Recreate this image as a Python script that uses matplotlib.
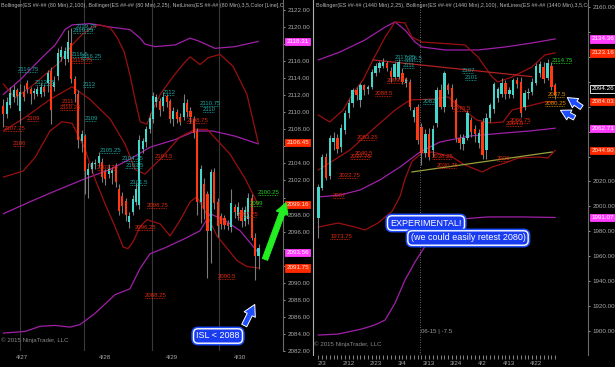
import matplotlib
matplotlib.use("Agg")
import matplotlib.pyplot as plt
from matplotlib.transforms import blended_transform_factory
from matplotlib.patches import FancyArrowPatch

plt.rcParams['font.family'] = ['Liberation Sans', 'DejaVu Sans']

# ---------------- left chart: ES 80 min bars ----------------
l_open = [2110.7, 2109.8, 2110.9, 2111.8, 2112.6, 2110.2, 2112.4, 2113.4, 2112.7, 2112.3,
          2112.2, 2112.2, 2113.0, 2113.4, 2114.8, 2113.0, 2114.2, 2116.5, 2116.3, 2116.3,
          2118.1, 2113.9, 2112.2, 2106.6, 2107.2, 2102.6, 2103.4, 2103.9, 2104.1, 2104.2,
          2103.0, 2102.8, 2102.9, 2103.6, 2101.0, 2100.2, 2099.6, 2097.1, 2098.3, 2099.5,
          2099.1, 2105.7, 2106.5, 2108.0, 2109.2, 2111.2, 2111.3, 2110.7, 2111.9, 2111.3,
          2109.2, 2110.0, 2109.4, 2109.5, 2111.1, 2110.1, 2109.2, 2107.8, 2099.5, 2101.6,
          2100.4, 2096.1, 2103.0, 2099.5, 2097.8, 2097.6, 2097.0, 2096.5, 2098.9, 2097.8,
          2098.5, 2097.2, 2097.5, 2100.0, 2095.3, 2093.1]
l_high = [2111.5, 2111.8, 2113.0, 2113.2, 2112.9, 2113.3, 2113.2, 2113.8, 2113.0, 2112.9,
          2113.1, 2113.4, 2113.3, 2115.0, 2115.3, 2114.3, 2117.5, 2117.8, 2117.6, 2119.7,
          2119.9, 2114.3, 2112.6, 2107.9, 2107.5, 2104.0, 2104.3, 2104.5, 2105.3, 2104.6,
          2103.4, 2103.9, 2103.6, 2104.0, 2101.6, 2100.7, 2100.0, 2098.3, 2100.3, 2101.7,
          2107.3, 2107.0, 2108.4, 2109.9, 2112.4, 2112.2, 2111.7, 2112.4, 2112.2, 2111.6,
          2110.6, 2110.4, 2109.9, 2112.1, 2111.6, 2110.6, 2109.6, 2108.2, 2103.8, 2102.3,
          2100.8, 2103.4, 2103.5, 2100.0, 2098.2, 2098.0, 2097.4, 2101.0, 2099.3, 2099.5,
          2098.9, 2099.0, 2100.5, 2100.4, 2095.8, 2094.6]
l_low = [2108.3, 2109.3, 2110.5, 2111.2, 2110.9, 2108.6, 2111.3, 2112.3, 2111.0, 2111.6,
         2111.9, 2111.8, 2111.9, 2112.4, 2108.6, 2112.5, 2113.8, 2116.0, 2115.6, 2115.9,
         2113.4, 2111.2, 2105.8, 2105.4, 2100.4, 2100.0, 2102.9, 2103.4, 2103.6, 2101.8,
         2101.5, 2102.3, 2101.6, 2101.2, 2098.0, 2098.2, 2097.2, 2096.4, 2097.9, 2099.1,
         2098.6, 2105.2, 2105.9, 2107.6, 2108.8, 2110.6, 2109.6, 2110.2, 2110.6, 2108.7,
         2108.4, 2108.7, 2108.5, 2109.1, 2109.4, 2108.8, 2107.0, 2098.0, 2097.0, 2097.5,
         2090.6, 2092.3, 2098.7, 2095.4, 2096.3, 2096.3, 2096.2, 2095.9, 2097.6, 2097.4,
         2096.6, 2096.7, 2096.9, 2095.0, 2090.3, 2091.6]
l_close = [2109.8, 2111.2, 2112.3, 2112.6, 2111.9, 2112.4, 2111.8, 2112.7, 2112.2, 2112.5,
           2112.7, 2113.0, 2112.4, 2114.6, 2110.3, 2113.5, 2117.0, 2117.3, 2117.2, 2118.3,
           2113.9, 2112.2, 2106.8, 2107.4, 2103.1, 2103.4, 2104.0, 2104.1, 2104.9, 2102.4,
           2102.2, 2103.3, 2103.2, 2101.8, 2098.4, 2099.0, 2097.9, 2097.8, 2099.8, 2101.0,
           2106.8, 2106.6, 2108.0, 2109.3, 2111.9, 2111.8, 2110.3, 2111.8, 2111.2, 2109.2,
           2110.2, 2109.2, 2108.9, 2111.1, 2110.0, 2109.4, 2107.6, 2099.5, 2103.3, 2098.7,
           2096.1, 2103.0, 2099.4, 2096.7, 2096.9, 2096.8, 2096.7, 2099.4, 2098.3, 2098.9,
           2097.2, 2098.5, 2100.0, 2095.3, 2093.1, 2094.1]

l_dates = ["4/27", "4/28", "4/29", "4/30"]
l_date_pos = [5.5, 29.9, 49.6, 69.6]
l_sessions = [4.9, 23.7, 43.7, 63.4]

# Bollinger(100) - purple
l_bb100_up_x = [0, 4.9, 10.8, 15.2, 18.1, 20.2, 25.5, 31.4, 37.2, 40.2, 41.6, 44.6, 50.5, 54.9, 57.8, 62.2, 68.1, 74.9]
l_bb100_up = [2112.1, 2113.8, 2116.2, 2117.9, 2119.7, 2120.25, 2120.4, 2120.0, 2119.7, 2118.7, 2118.0, 2117.7,
              2117.9, 2118.7, 2118.3, 2117.5, 2117.7, 2118.31]
l_bb100_mid_x = [0, 7.8, 16.6, 24.0, 31.4, 37.2, 43.1, 50.5, 56.4, 61.6, 68.1, 74.9]
l_bb100_mid = [2098.1, 2099.5, 2101.0, 2102.2, 2103.3, 2104.5, 2105.9, 2106.8, 2107.8, 2107.8, 2107.2, 2106.3]
l_bb100_lo_x = [0, 6.4, 10.8, 15.2, 19.6, 22.5, 26.9, 32.8, 37.2, 40.2, 43.1, 47.5, 53.4, 57.8, 60.8, 65.2, 69.6, 74.9]
l_bb100_lo = [2084.1, 2084.3, 2084.9, 2085.0, 2084.8, 2085.1, 2086.4, 2088.6, 2089.3, 2091.7, 2093.4, 2094.1,
              2095.2, 2096.1, 2098.1, 2097.3, 2096.1, 2093.56]
# Bollinger(25) - dark red
l_bb25_up_x = [0, 3.4, 7.8, 12.2, 16.6, 20.2, 23.1, 26.1, 28.4, 31.4, 33.4, 35.5, 37.2, 38.7, 40.2, 42.2, 43.7,
               46.1, 49.9, 53.4, 54.9, 57.8, 60.2, 63.7, 67.5, 71.6, 74.9]
l_bb25_up = [2113.3, 2111.7, 2112.9, 2114.4, 2115.9, 2117.9, 2119.1, 2120.0, 2120.25, 2119.9, 2118.8, 2117.1,
             2114.4, 2111.5, 2108.9, 2108.6, 2110.1, 2112.1, 2114.2, 2115.9, 2116.5, 2115.6, 2116.4, 2116.8,
             2115.4, 2112.1, 2106.45]
l_bb25_mid_x = [0, 6.4, 13.7, 20.2, 25.5, 31.4, 35.8, 38.7, 41.6, 46.1, 51.9, 56.4, 59.9, 66.6, 71.1, 74.9]
l_bb25_mid = [2107.8, 2109.4, 2111.5, 2113.0, 2111.5, 2109.2, 2106.25, 2103.3, 2102.75, 2104.5, 2107.1,
              2108.0, 2108.0, 2105.1, 2102.2, 2099.16]
l_bb25_lo_x = [0, 5.8, 9.3, 13.7, 17.2, 20.2, 24.0, 26.9, 29.9, 32.8, 35.2, 36.6, 38.1, 40.2, 42.2, 46.1, 49.0,
               51.9, 54.9, 56.9, 59.3, 62.8, 68.7, 71.6, 74.9]
l_bb25_lo = [2102.4, 2103.1, 2104.7, 2107.8, 2108.9, 2108.7, 2105.7, 2102.2, 2099.25, 2096.6, 2094.2, 2094.0,
             2094.8, 2096.6, 2097.4, 2096.9, 2095.5, 2097.3, 2099.5, 2100.1, 2098.4, 2095.5, 2092.6, 2091.9,
             2091.75]

# NetLines levels: (text, bar, price, colour key)
l_levels = [("2119.75", 21.1, 2119.75, "c"), ("2119.25", 20.5, 2119.25, "c"), ("2114.75", 4.3, 2114.75, "c"),
            ("2116.5", 19.9, 2116.5, "c"), ("2116.25", 22.8, 2116.25, "c"), ("2115.75", 20.2, 2115.75, "r"),
            ("2113", 23.4, 2113.0, "c"), ("2113.25", 9.3, 2113.25, "c"), ("2111", 17.2, 2111.0, "r"),
            ("2110.25", 16.6, 2110.25, "r"), ("2109", 24.0, 2109.0, "c"), ("2109", 6.9, 2109.0, "r"),
            ("2107.75", 0.2, 2107.75, "r"), ("2106", 2.8, 2106.0, "r"), ("2112", 46.9, 2112.0, "c"),
            ("2110.75", 57.8, 2110.75, "c"), ("2110", 58.7, 2110.0, "c"), ("2108.75", 54.0, 2108.75, "r"),
            ("2105.25", 28.4, 2105.25, "c"), ("2104.25", 34.9, 2104.25, "c"), ("2103.5", 35.8, 2103.5, "c"),
            ("2103.25", 27.5, 2103.25, "r"), ("2101.5", 37.2, 2101.5, "c"), ("2104.5", 44.6, 2104.5, "r"),
            ("2098.75", 42.2, 2098.75, "r"), ("2096.25", 38.7, 2096.25, "r"), ("2097.75", 68.7, 2097.75, "r"),
            ("2090.5", 63.1, 2090.5, "r"), ("2088.25", 41.6, 2088.25, "r"), ("2100.25", 74.9, 2100.25, "g"),
            ("2099", 72.5, 2099.0, "g")]
l_tags = [(2118.31, "m"), (2106.45, "r"), (2099.16, "r"), (2093.56, "m"), (2091.75, "r")]

# ---------------- right chart: ES daily bars ----------------
r_open = [1990.7, 2015, 2040, 2024, 2052, 2055, 2048, 2061, 2075, 2083, 2093, 2085, 2097, 2094, 2096, 2107,
          2111, 2113, 2115, 2109, 2104, 2104, 2107, 2099, 2100, 2072, 2080, 2064, 2043, 2058, 2045, 2067,
          2093, 2080, 2097, 2095, 2085, 2055, 2050, 2055, 2069, 2062, 2051, 2068, 2045, 2071, 2078, 2087,
          2090, 2099, 2090, 2089, 2101, 2100, 2080, 2091, 2092, 2099, 2107, 2112, 2103, 2113, 2097]
r_high = [2018, 2042, 2043, 2057, 2060, 2058, 2066, 2077, 2086, 2095, 2096, 2099, 2098, 2097, 2110, 2115,
          2117, 2119, 2117, 2112, 2116, 2118, 2111, 2104, 2102, 2080, 2082, 2067, 2062, 2063, 2065, 2096,
          2098, 2109, 2099, 2098, 2087, 2058, 2058, 2077, 2072, 2065, 2062, 2071, 2075, 2083, 2100, 2096,
          2103, 2101, 2096, 2103, 2104, 2104, 2093, 2095, 2103, 2115, 2117, 2116, 2118, 2116, 2099]
r_low = [1974.6, 2013, 2021, 2022, 2045, 2043, 2044, 2058, 2071, 2080, 2085, 2080, 2089, 2090, 2094, 2105,
         2108, 2111, 2109, 2100, 2102, 2102, 2098, 2096, 2077, 2068, 2050, 2033, 2040, 2037, 2040, 2064,
         2078, 2076, 2090, 2078, 2052, 2046, 2045, 2053, 2056, 2052, 2047, 2038, 2038, 2068, 2075, 2084,
         2088, 2086, 2087, 2087, 2095, 2072, 2077, 2086, 2089, 2097, 2104, 2099, 2101, 2093, 2086]
r_close = [2015.5, 2040, 2023, 2055, 2055, 2046, 2063, 2075, 2083, 2093, 2089, 2097, 2093, 2096, 2108, 2113,
           2115, 2116, 2111, 2104, 2114, 2116, 2100, 2102, 2080, 2077, 2053, 2043, 2058, 2040, 2062, 2093,
           2080, 2107, 2093, 2080, 2055, 2051, 2055, 2075, 2060, 2058, 2059, 2041, 2071, 2081, 2098, 2094,
           2099, 2090, 2093, 2101, 2098, 2075, 2091, 2092, 2100, 2113, 2114, 2102, 2115, 2096, 2089]

r_dates = ["2/3", "2/12", "2/23", "3/4", "3/13", "3/24", "4/2", "4/13", "4/22"]
r_date_pos = [1, 8, 15, 22, 29, 36, 43, 50, 57]
r_cursor = 26.6

r_bb100_up_x = [0, 5.7, 12.2, 17.5, 20.1, 22.7, 25.3, 27.1, 33.2, 41.8, 48.9, 55.9, 62.0]
r_bb100_up = [2117.5, 2123.9, 2133.5, 2143.9, 2148.0, 2141.5, 2131.9, 2127.9, 2125.5, 2125.5, 2127.9, 2131.1, 2134.36]
r_bb100_mid_x = [0, 5.7, 10.9, 16.1, 21.4, 26.6, 31.8, 39.7, 48.9, 55.4, 62.0]
r_bb100_mid = [2007.5, 2009.1, 2013.1, 2021.2, 2031.6, 2043.6, 2051.6, 2056.5, 2058.9, 2060.5, 2062.71]
r_bb100_lo_x = [0, 5.2, 11.4, 14.8, 17.5, 20.1, 22.7, 25.3, 28.5, 31.9, 37.6, 44.4, 53.3, 62.0]
r_bb100_lo = [1896.7, 1897.5, 1901.6, 1904.8, 1908.8, 1922.4, 1940.9, 1955.3, 1970.6, 1982.6, 1989.9, 1991.5,
              1991.5, 1991.07]
r_bb25_up_x = [0, 3.0, 6.5, 9.1, 11.7, 14.3, 17.5, 20.1, 22.7, 24.5, 27.1, 38.4, 41.8, 45.5, 47.0, 50.7, 55.9,
               59.3, 62.0]
r_bb25_up = [2073.3, 2067.7, 2077.3, 2091.0, 2101.4, 2117.5, 2135.9, 2148.0, 2147.2, 2135.9, 2131.9, 2129.5,
             2119.9, 2103.8, 2099.8, 2103.8, 2111.8, 2121.5, 2123.16]
r_bb25_mid_x = [0, 8.3, 14.1, 20.1, 24.0, 30.5, 34.0, 37.1, 41.5, 45.0, 48.4, 50.7, 59.3, 62.0]
r_bb25_mid = [2029.2, 2045.2, 2061.3, 2077.3, 2085.4, 2086.2, 2087.8, 2079.7, 2069.3, 2066.9, 2067.7, 2077.3,
              2083.8, 2084.03]
r_bb25_lo_x = [0, 5.2, 9.6, 12.2, 15.6, 19.3, 21.4, 22.7, 24.5, 27.1, 29.8, 35.0, 38.4, 42.9, 45.5, 48.9, 52.3,
               57.5, 60.1, 62.0]
r_bb25_lo = [1983.4, 1986.6, 1983.4, 1981.0, 1986.6, 1996.0, 2008.0, 2022.0, 2036.0, 2042.8, 2043.6, 2039.6,
             2033.2, 2027.6, 2031.6, 2034.8, 2038.8, 2039.6, 2038.8, 2044.90]

# hand drawn trend lines (bar, price)
r_res_line = ([14.3, 55.9], [2117.5, 2104.1])
r_sup_line = ([24.5, 61.2], [2027.6, 2043.6])

r_levels = [("2117.25", 20.1, 2117.25, "c"), ("2116.5", 22.7, 2116.5, "c"), ("2111", 22.2, 2111.0, "c"),
            ("2107", 37.6, 2107.0, "c"), ("2101", 38.4, 2101.0, "c"), ("2082", 27.4, 2082.0, "c"),
            ("2099.25", 18.0, 2099.25, "r"), ("2088.5", 14.8, 2088.5, "r"), ("2053.25", 10.1, 2053.25, "r"),
            ("2040.5", 9.6, 2040.5, "r"), ("2037.75", 8.3, 2037.75, "r"), ("2022.75", 5.2, 2022.75, "r"),
            ("2007", 3.8, 2007.0, "r"), ("1973.75", 3.1, 1973.75, "r"), ("2076.5", 35.3, 2076.5, "r"),
            ("2066.75", 50.2, 2066.75, "r"), ("2064.5", 49.1, 2064.5, "r"), ("2038.25", 29.8, 2038.25, "r"),
            ("2030.75", 31.1, 2030.75, "r"), ("2036", 46.8, 2036.0, "r"), ("2114.75", 61.2, 2114.75, "g"),
            ("2087.5", 60.1, 2087.5, "o"), ("2080.25", 59.3, 2080.25, "o")]
r_tags = [(2134.36, "m"), (2123.16, "r"), (2094.26, "k"), (2084.03, "r"), (2062.71, "m"), (2044.90, "r"),
          (1991.07, "m")]

# ---------------- styling ----------------
UP, DOWN, WICK = "#45d6cb", "#ff3a12", "#7c7c7c"
PURPLE, DRED = "#a020a8", "#9a1010"
LEVEL_COL = {"c": "#1fa5a0", "r": "#e0280f", "g": "#25d025", "o": "#e08a00"}
TAG_COL = {"m": ("#ff3cff", "white", "#ff3cff"), "r": ("#ff2a00", "#ffe8e0", "#ff2a00"),
           "k": ("black", "white", "white")}
GRAY = "#a8a8a8"

fig = plt.figure(figsize=(6.15, 3.67), dpi=100, facecolor="black")
axL = fig.add_axes([0, 16 / 367, 283 / 615, 351 / 367])
axR = fig.add_axes([313 / 615, 12 / 367, 275 / 615, 355 / 367])


def candles(ax, o, h, l, c, width):
    x = list(range(len(o)))
    ax.vlines(x, l, h, color=WICK, lw=0.8, zorder=3)
    cols = [UP if cc >= oo else DOWN for oo, cc in zip(o, c)]
    bottoms = [min(oo, cc) for oo, cc in zip(o, c)]
    heights = [max(abs(cc - oo), 0.0001) for oo, cc in zip(o, c)]
    ax.bar(x, heights, bottom=bottoms, width=width, color=cols, lw=0, zorder=4)


def levels(ax, items, px_per_bar):
    for txt, x, y, k in items:
        col = LEVEL_COL[k]
        w = len(txt) * 2.75 / px_per_bar
        ax.hlines(y, x, x + w, colors=col, lw=0.6, linestyles=(0, (1, 1)), zorder=5)
        ax.text(x, y, txt, color=col, fontsize=4.3, va="bottom", ha="left", zorder=5)


def tags(ax, items):
    tr = blended_transform_factory(ax.transAxes, ax.transData)
    for v, k in items:
        fc, tc, ec = TAG_COL[k]
        ax.text(1.012, v, f"{v:.2f}", transform=tr, fontsize=4.5, color=tc, va="center", ha="left",
                clip_on=False, zorder=10,
                bbox=dict(boxstyle="square,pad=0.18", fc=fc, ec=ec, lw=0.6))


def price_axis(ax, ticks, items, px_per_unit):
    # tick labels hidden under a price tag are left blank, as on the screen
    ax.set_yticks(ticks)
    labels = []
    for t in ticks:
        covered = any(abs(t - v) * px_per_unit < 8 for v, _ in items)
        labels.append("" if covered else f"{t:.2f}")
    ax.set_yticklabels(labels)


def style(ax):
    ax.set_facecolor("black")
    for s in ("left", "top", "bottom"):
        ax.spines[s].set_visible(False)
    ax.spines["right"].set_color("#6a6a6a")
    ax.yaxis.tick_right()
    ax.tick_params(axis="y", colors=GRAY, labelsize=4.5, length=1.5, width=0.6, pad=1.5)
    ax.tick_params(axis="x", colors=GRAY, labelsize=4.5)


# left panel
style(axL)
axL.set_xlim(-1, 82.2)
axL.set_ylim(2082.21, 2123.17)
for s in l_sessions:
    axL.axvline(s, color="#3a3a3a", lw=0.8, zorder=1)
axL.plot(l_bb100_up_x, l_bb100_up, color=PURPLE, lw=0.9, zorder=2)
axL.plot(l_bb100_mid_x, l_bb100_mid, color=PURPLE, lw=0.9, zorder=2)
axL.plot(l_bb100_lo_x, l_bb100_lo, color=PURPLE, lw=0.9, zorder=2)
axL.plot(l_bb25_up_x, l_bb25_up, color=DRED, lw=0.9, zorder=2)
axL.plot(l_bb25_mid_x, l_bb25_mid, color=DRED, lw=0.9, zorder=2)
axL.plot(l_bb25_lo_x, l_bb25_lo, color=DRED, lw=0.9, zorder=2)
candles(axL, l_open, l_high, l_low, l_close, 0.6)
levels(axL, l_levels, 3.4)
price_axis(axL, list(range(2082, 2123, 2)), l_tags, 8.57)
axL.set_xticks(l_date_pos)
axL.set_xticklabels(l_dates)
axL.tick_params(axis="x", length=0, pad=3)
tags(axL, l_tags)
axL.text(0.003, 0.985, "Bollinger(ES ##-## (80 Min),2,100), Bollinger(ES ##-## (80 Min),2,25), "
         "NetLines(ES ##-## (80 Min),3,5,Color [Line],Color [", transform=axL.transAxes,
         fontsize=3.85, color="#b4b4b4", va="center", ha="left", clip_on=True, zorder=6)
axL.text(0.003, 0.03, "© 2015 NinjaTrader, LLC", transform=axL.transAxes, fontsize=4.4,
         color="#8a8a8a", va="center", ha="left", zorder=6)

# right panel
style(axR)
axR.spines["left"].set_visible(True)
axR.spines["left"].set_color("#b0b0b0")
axR.set_xlim(-1.39, 70.6)
axR.set_ylim(1880.7, 2165.6)
axR.plot(r_bb100_up_x, r_bb100_up, color=PURPLE, lw=0.9, zorder=2)
axR.plot(r_bb100_mid_x, r_bb100_mid, color=PURPLE, lw=0.9, zorder=2)
axR.plot(r_bb100_lo_x, r_bb100_lo, color=PURPLE, lw=0.9, zorder=2)
axR.plot(r_bb25_up_x, r_bb25_up, color=DRED, lw=0.9, zorder=2)
axR.plot(r_bb25_mid_x, r_bb25_mid, color=DRED, lw=0.9, zorder=2)
axR.plot(r_bb25_lo_x, r_bb25_lo, color=DRED, lw=0.9, zorder=2)
axR.plot(*r_res_line, color="#b02222", lw=0.9, zorder=2)
axR.plot(*r_sup_line, color="#9aa03a", lw=0.9, zorder=2)
candles(axR, r_open, r_high, r_low, r_close, 0.65)
levels(axR, r_levels, 3.82)
axR.axvline(r_cursor, color="#8c8c8c", lw=0.6, ls=(0, (1, 2)), zorder=6)
price_axis(axR, list(range(1900, 2161, 20)), r_tags, 1.246)
axR.set_xticks(r_date_pos)
axR.set_xticklabels(r_dates)
axR.set_xticks(range(0, len(r_open)), minor=True)
axR.tick_params(axis="x", which="both", length=3, width=0.6, pad=1, color="#9a9a9a")
tags(axR, r_tags)
axR.text(0.012, 0.985, "Bollinger(ES ##-## (1440 Min),2,25), Bollinger(ES ##-## (1440 Min),2,100), "
         "NetLines(ES ##-## (1440 Min),3,5,Color [L", transform=axR.transAxes,
         fontsize=3.85, color="#b4b4b4", va="center", ha="left", clip_on=True, zorder=6)
axR.text(0.003, 0.03, "© 2015 NinjaTrader, LLC", transform=axR.transAxes, fontsize=4.4,
         color="#8a8a8a", va="center", ha="left", zorder=6)
axR.text(r_cursor + 0.2, 0.065, "06-15 | -7.5", transform=blended_transform_factory(axR.transData, axR.transAxes),
         fontsize=4.4, color="#9a9a9a", va="center", ha="left", zorder=6)


# ---------------- annotations (figure pixel positions) ----------------
def fp(x, y):
    return x / 615, 1 - y / 367


def note(x, y, txt, size=6.5):
    for ec, lw in (("#1e4dff", 3.2), ("white", 1.0)):
        fig.text(*fp(x, y), txt, color="white", fontsize=size, ha="center", va="center", zorder=20,
                 bbox=dict(boxstyle="round,pad=0.3,rounding_size=0.5", fc="#1a3cf0", ec=ec, lw=lw))


def arrow(p0, p1, col, edge, scale, tw, hw, hl):
    a = FancyArrowPatch(fp(*p0), fp(*p1), transform=fig.transFigure,
                        arrowstyle=f"simple,head_length={hl},head_width={hw},tail_width={tw}",
                        mutation_scale=scale, fc=col, ec=edge, lw=0.7, zorder=20)
    fig.add_artist(a)


note(218, 336, "ISL < 2088")
note(426, 223, "EXPERIMENTAL!")
note(468, 238, "(we could easily retest 2080)")
arrow((264, 262), (287, 200), "#22ee22", "#22ee22", 9, 0.45, 1.0, 0.9)
arrow((243, 328), (256, 302), "#1e4dff", "white", 9, 0.45, 1.0, 0.9)
arrow((584, 109), (565, 96), "#1e4dff", "white", 8, 0.45, 1.0, 0.9)
arrow((577, 119), (558, 109), "#1e4dff", "white", 8, 0.45, 1.0, 0.9)

fig.savefig("out.png", dpi=100, facecolor="black")
